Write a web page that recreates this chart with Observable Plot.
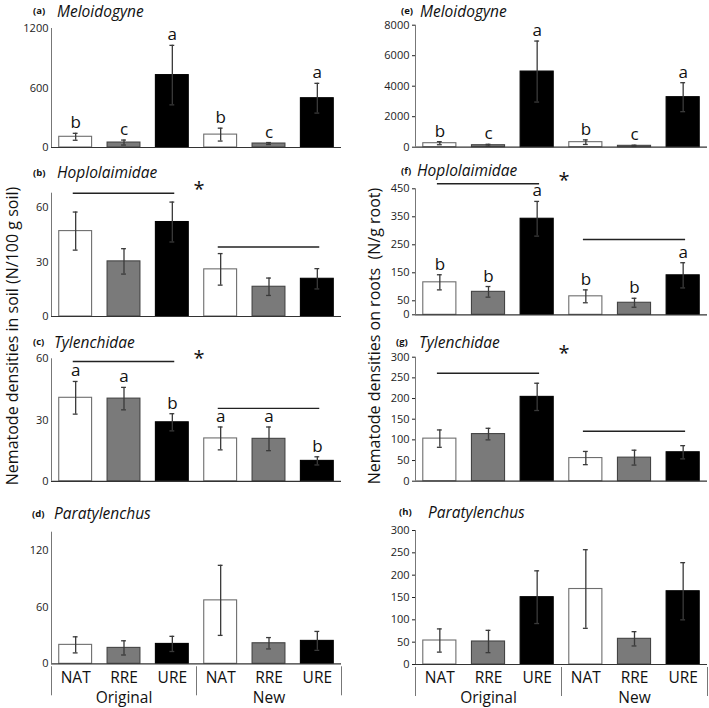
<!DOCTYPE html>
<html><head><meta charset="utf-8">
<script src="https://cdn.jsdelivr.net/npm/d3@7"></script>
<script src="https://cdn.jsdelivr.net/npm/@observablehq/plot@0.6"></script>
<style>
body{margin:0;background:#fff;}
#root{position:relative;width:709px;height:708px;overflow:hidden;font-family:"Open Sans",sans-serif;color:#111;}
.panel{position:absolute;}
.tl{position:absolute;white-space:nowrap;line-height:1.2;transform:translateY(-50%);}
.tl.lab{font-size:9.5px;font-weight:700;}
.tl.name{font-size:15.5px;font-style:italic;}
.ylab{position:absolute;transform:translate(-50%,-50%) rotate(-90deg);white-space:pre;font-size:16px;}
</style></head><body><div id="root"></div><script>
// ---- data ----
const treatments = ["NAT","RRE","URE","NAT","RRE","URE"];
const sites = ["Original","New"];

const meloSoilMean = [108, 50, 730, 130, 40, 497];
const meloSoilSE   = [35, 25, 300, 65, 10, 150];
const meloSoilLetters = ["b","c","a","b","c","a"];

const hoploSoilMean = [47.1, 30.4, 52.1, 26, 16.4, 20.8];
const hoploSoilSE   = [10.5, 7, 11, 8.7, 4.8, 5.6];

const tylSoilMean = [40.9, 40.5, 28.9, 21, 20.8, 10];
const tylSoilSE   = [8, 5.5, 4.2, 5.6, 5.8, 2];
const tylSoilLetters = ["a","a","b","a","a","b"];

const paraSoilMean = [20, 16.8, 21, 67, 21.7, 24.2];
const paraSoilSE   = [8.5, 7.5, 8, 37, 6, 10];

const meloRootMean = [262, 130, 4960, 330, 90, 3280];
const meloRootSE   = [100, 60, 2000, 150, 40, 950];
const meloRootLetters = ["b","c","a","b","c","a"];

const hoploRootMean = [116, 82, 343, 66, 43, 141];
const hoploRootSE   = [27, 19, 62, 23, 16, 45];
const hoploRootLetters = ["b","b","a","b","b","a"];

const tylRootMean = [103, 114, 204, 56, 57, 70];
const tylRootSE   = [21, 14, 33, 16, 18, 16];

const paraRootMean = [53.7, 51.5, 150.7, 169, 57.5, 164];
const paraRootSE   = [26, 25, 59, 88, 16, 64];

// significance bars (x in bar-index units, y in data units) and asterisk heights
const hoploSoilSig = [{x1:-0.05, x2:2.05, y:68}, {x1:2.95, x2:5.05, y:38.3}];
const hoploSoilStar = 71.7;
const tylSoilSig = [{x1:-0.05, x2:2.05, y:58.7}, {x1:2.95, x2:5.05, y:35.7}];
const tylSoilStar = 61.7;
const hoploRootSig = [{x1:-0.05, x2:2.05, y:468}, {x1:2.95, x2:5.05, y:269}];
const hoploRootStar = 490;
const tylRootSig = [{x1:-0.05, x2:2.05, y:261}, {x1:2.95, x2:5.05, y:121}];
const tylRootStar = 316;

const panels = [
  {id:"(a)", name:"Meloidogyne", mean:meloSoilMean, se:meloSoilSE, letters:meloSoilLetters,
   domain:[0,1200], ticks:[0,600,1200], col:0, top:0, height:160, mt:28, mb:13,
   tY:10.5, labX:33, nameX:57},
  {id:"(b)", name:"Hoplolaimidae", mean:hoploSoilMean, se:hoploSoilSE, sig:hoploSoilSig, star:hoploSoilStar,
   domain:[0,68], ticks:[0,30,60], col:0, top:165, height:160, mt:27.7, mb:9,
   tY:172, labX:33, nameX:57},
  {id:"(c)", name:"Tylenchidae", mean:tylSoilMean, se:tylSoilSE, letters:tylSoilLetters, sig:tylSoilSig, star:tylSoilStar,
   domain:[0,60], ticks:[0,30,60], col:0, top:330, height:160, mt:28.3, mb:9.2,
   tY:341.7, labX:33, nameX:54},
  {id:"(d)", name:"Paratylenchus", mean:paraSoilMean, se:paraSoilSE, bottom:true,
   domain:[0,139], ticks:[0,60,120], col:0, top:495, height:213, mt:36.7, mb:44.7,
   tY:513, labX:32, nameX:54},
  {id:"(e)", name:"Meloidogyne", mean:meloRootMean, se:meloRootSE, letters:meloRootLetters,
   domain:[0,8000], ticks:[0,2000,4000,6000,8000], col:1, top:0, height:160, mt:24.7, mb:13.3,
   tY:10.5, labX:401, nameX:420},
  {id:"(f)", name:"Hoplolaimidae", mean:hoploRootMean, se:hoploRootSE, letters:hoploRootLetters, sig:hoploRootSig, star:hoploRootStar,
   domain:[0,450], ticks:[0,50,150,250,350,450], col:1, top:165, height:160, mt:23.3, mb:10.7,
   tY:170, labX:401, nameX:417},
  {id:"(g)", name:"Tylenchidae", mean:tylRootMean, se:tylRootSE, sig:tylRootSig, star:tylRootStar,
   domain:[0,300], ticks:[0,50,100,150,200,250,300], col:1, top:330, height:160, mt:26.7, mb:9.3,
   tY:341.7, labX:396, nameX:419},
  {id:"(h)", name:"Paratylenchus", mean:paraRootMean, se:paraRootSE, bottom:true,
   domain:[0,300], ticks:[0,50,100,150,200,250,300], col:1, top:495, height:213, mt:35, mb:44,
   tY:511.7, labX:399, nameX:428}
];

const cols = [{left:0, width:355, ml:51, mr:14}, {left:355, width:354, ml:60, mr:2}];
const barStyle = {NAT:{fill:"#ffffff", stroke:"#6e6e6e"}, RRE:{fill:"#7a7a7a", stroke:"#444"}, URE:{fill:"#000", stroke:"#000"}};

const root = document.getElementById("root");

function makePanel(p) {
  const c = cols[p.col];
  const data = treatments.map((t, i) => ({i, trt:t, mean:p.mean[i], se:p.se[i], letter: p.letters ? p.letters[i] : ""}));
  const frameH = p.height - p.mt - p.mb;
  const marks = [
    Plot.axisY({ticks:p.ticks, tickSize:p.col ? 3 : 0, tickPadding:3, fontSize:11, label:null, tickFormat:d => String(d)}),
    ...["NAT","RRE","URE"].map(t => Plot.rect(data, {filter:d => d.trt === t, x1:d => d.i - 0.34, x2:d => d.i + 0.34, y1:0, y2:"mean", fill:barStyle[t].fill, stroke:barStyle[t].stroke, strokeWidth:1.1})),
    Plot.ruleX(data, {x:"i", y1:d => d.mean - d.se, y2:d => d.mean + d.se, stroke:"#3a3a3a", strokeWidth:1.3}),
    Plot.ruleY(data, {y:d => d.mean + d.se, x1:d => d.i - 0.05, x2:d => d.i + 0.05, stroke:"#3a3a3a", strokeWidth:1.3}),
    Plot.ruleY(data, {y:d => d.mean - d.se, x1:d => d.i - 0.05, x2:d => d.i + 0.05, stroke:"#3a3a3a", strokeWidth:1.3}),
    Plot.ruleY([0], {stroke:"#333", strokeWidth:1.2}),
    Plot.ruleX([-0.5], {stroke:"#777", strokeWidth:1})
  ];
  if (p.letters) {
    marks.push(Plot.text(data, {x:"i", y:d => d.mean + d.se, text:"letter", lineAnchor:"bottom", dy:-5, fontSize:17, fill:"#111"}));
  }
  if (p.sig) {
    marks.push(Plot.ruleY(p.sig, {y:"y", x1:"x1", x2:"x2", stroke:"#222", strokeWidth:1.4}));
    marks.push(Plot.text([{x:2.55, y:p.star}], {x:"x", y:"y", text:() => "*", fontSize:20, lineAnchor:"middle", dy:3, fill:"#111"}));
  }
  if (p.bottom) {
    marks.push(Plot.text(data, {x:"i", text:"trt", frameAnchor:"bottom", lineAnchor:"middle", dy:14, fontSize:15.5, fill:"#111"}));
    marks.push(Plot.text(sites.map((s, k) => ({s, x:k * 3 + 1})), {x:"x", text:"s", frameAnchor:"bottom", lineAnchor:"middle", dy:34, fontSize:15.5, fill:"#111"}));
    marks.push(Plot.ruleX([-0.5, 2.5, 5.5], {stroke:"#777", strokeWidth:1, insetTop:frameH + 3, insetBottom:-32}));
  }
  const svg = Plot.plot({
    width:c.width, height:p.height,
    marginLeft:c.ml, marginRight:c.mr, marginTop:p.mt, marginBottom:p.mb,
    x:{domain:[-0.5, 5.5], axis:null},
    y:{domain:p.domain, axis:null},
    style:{fontFamily:"Open Sans", fontSize:"11px", color:"#222", background:"transparent", overflow:"visible"},
    marks
  });
  const div = document.createElement("div");
  div.className = "panel";
  div.style.left = c.left + "px";
  div.style.top = p.top + "px";
  div.appendChild(svg);
  root.appendChild(div);

  const lab = document.createElement("span");
  lab.className = "tl lab"; lab.textContent = p.id;
  lab.style.left = p.labX + "px"; lab.style.top = (p.tY + 0.5) + "px";
  root.appendChild(lab);
  const nm = document.createElement("span");
  nm.className = "tl name"; nm.textContent = p.name;
  nm.style.left = p.nameX + "px"; nm.style.top = p.tY + "px";
  root.appendChild(nm);
}
panels.forEach(makePanel);

const ylabs = [{t:"Nematode densities in soil (N/100 g soil)", x:12, y:336}, {t:"Nematode densities on roots  (N/g root)", x:374, y:336}];
ylabs.forEach(l => {
  const d = document.createElement("div");
  d.className = "ylab"; d.textContent = l.t;
  d.style.left = l.x + "px"; d.style.top = l.y + "px";
  root.appendChild(d);
});
</script></body></html>
